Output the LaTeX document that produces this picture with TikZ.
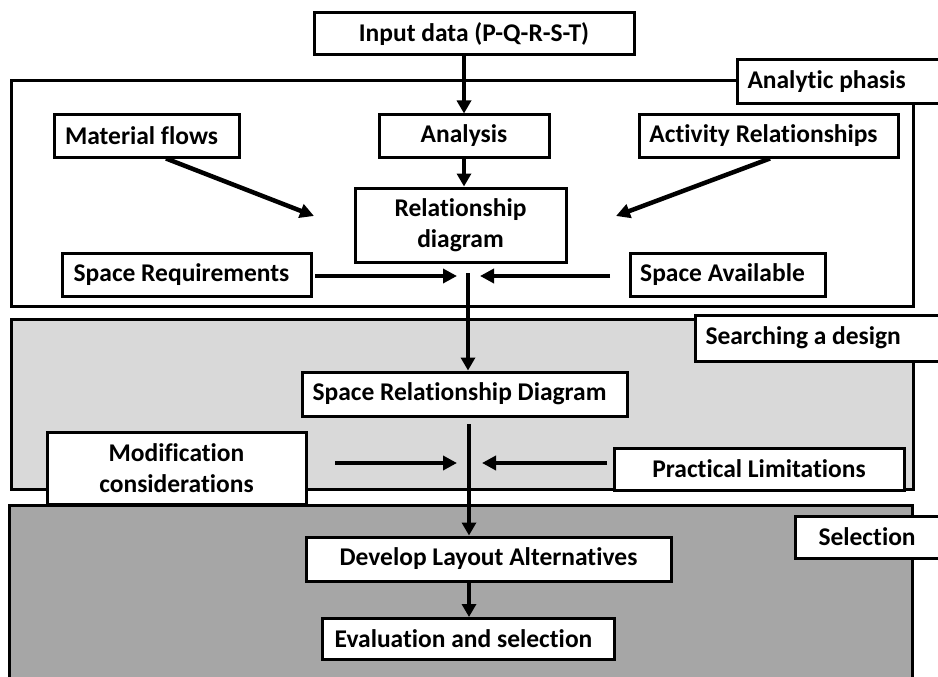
\documentclass[tikz,border=0pt]{standalone}
\usepackage{fontspec}
\setmainfont{Carlito}[Ligatures=NoCommon]
\usetikzlibrary{arrows.meta}

\definecolor{bandlight}{HTML}{D9D9D9}
\definecolor{banddark}{HTML}{A6A6A6}

% trailing pad that moves a box's text slightly to the left
\newcommand{\rpad}{\hspace*{10pt}}

\tikzset{
  boxtxt/.style={font=\bfseries\fontsize{25.5}{30.5}\selectfont},
  stage/.style={boxtxt, draw=black, fill=white, line width=3pt, inner sep=0pt,
    align=center},
  phaselabel/.style={boxtxt, draw=black, fill=white, line width=3pt, inner sep=0pt,
    anchor=west},
  band/.style={draw=black, line width=3pt},
  flow/.style={line width=4.5pt, -{Triangle[length=13pt,width=14pt]}},
  feed/.style={line width=4.5pt, -{Triangle[length=14pt,width=14pt]}}
}

\begin{document}
\begin{tikzpicture}[x=1pt,y=-1pt]
\useasboundingbox (0,0) rectangle (938,677);
\clip (0,0) rectangle (938,677);

% phase bands
\path[band, fill=white] (11,81) rectangle (913,306);
\path[band, fill=bandlight] (11,319) rectangle (913,489);
\path[band, fill=banddark] (9,505) rectangle (912,700);

% phase labels, running off the right edge
\node[phaselabel, minimum height=44] (labA) at (736,82)
  {\makebox[215pt][l]{\hspace*{10pt}Analytic phasis}};
\node[phaselabel, minimum height=46] (labS) at (694,338)
  {\makebox[255pt][l]{\hspace*{10pt}Searching a design}};
\node[phaselabel, minimum height=42] (labE) at (794,537)
  {\makebox[150pt][l]{\hspace*{23pt}Selection}};

% stages
\node[stage, minimum width=320, minimum height=42] (input) at (474,34) {Input data (P-Q-R-S-T)};
\node[stage, minimum width=185, minimum height=42] (matf) at (146.5,136) {Material flows\rpad};
\node[stage, minimum width=170, minimum height=42] (anal) at (464,136) {Analysis};
\node[stage, minimum width=259, minimum height=42] (act) at (768.5,136) {Activity Relationships\rpad};
\node[stage, minimum width=211, minimum height=74] (rel) at (460.5,225) {Relationship\\diagram};
\node[stage, minimum width=249, minimum height=43] (sreq) at (186.5,275) {Space Requirements\rpad};
\node[stage, minimum width=195, minimum height=43] (savail) at (727.5,275) {Space Available\rpad};
\node[stage, minimum width=325, minimum height=44] (srd) at (464.5,394) {Space Relationship Diagram\rpad};
\node[stage, minimum width=259, minimum height=72] (mod) at (176.5,468) {Modification\\considerations};
\node[stage, minimum width=290, minimum height=42] (prac) at (759,469) {Practical Limitations};
\node[stage, minimum width=365, minimum height=44] (dev) at (488.5,559) {Develop Layout Alternatives};
\node[stage, minimum width=292, minimum height=41] (eval) at (468.5,639) {Evaluation and selection\rpad};

% junction points and free arrow ends
\coordinate (j1) at (468,273);
\coordinate (j2) at (469,424);
\coordinate (mfEnd) at (314,216);
\coordinate (acEnd) at (616,216);
\coordinate (srEnd) at (457,276);
\coordinate (saEnd) at (480,276);
\coordinate (srStart) at (315,276);
\coordinate (saStart) at (610,276);
\coordinate (mcStart) at (335,463);
\coordinate (mcEnd) at (457,463);
\coordinate (plStart) at (607,463);
\coordinate (plEnd) at (482,463);

% main flow
\draw[flow] (input.south -| anal.north) -- (anal.north);
\draw[flow] (anal.south) -- (anal.south |- rel.north);
\draw[flow] (j1) -- (j1 |- srd.north);
\draw[flow] (j2) -- (j2 |- dev.north);
\draw[flow] (j2 |- dev.south) -- (j2 |- eval.north);

% inputs to the relationship diagram
\draw[feed] ([xshift=19.5pt]matf.south) -- (mfEnd);
\draw[feed] ([xshift=1.5pt]act.south) -- (acEnd);
\draw[feed] (srStart) -- (srEnd);
\draw[feed] (saStart) -- (saEnd);

% adjustments to the space relationship diagram
\draw[feed] (mcStart) -- (mcEnd);
\draw[feed] (plStart) -- (plEnd);
\end{tikzpicture}
\end{document}
